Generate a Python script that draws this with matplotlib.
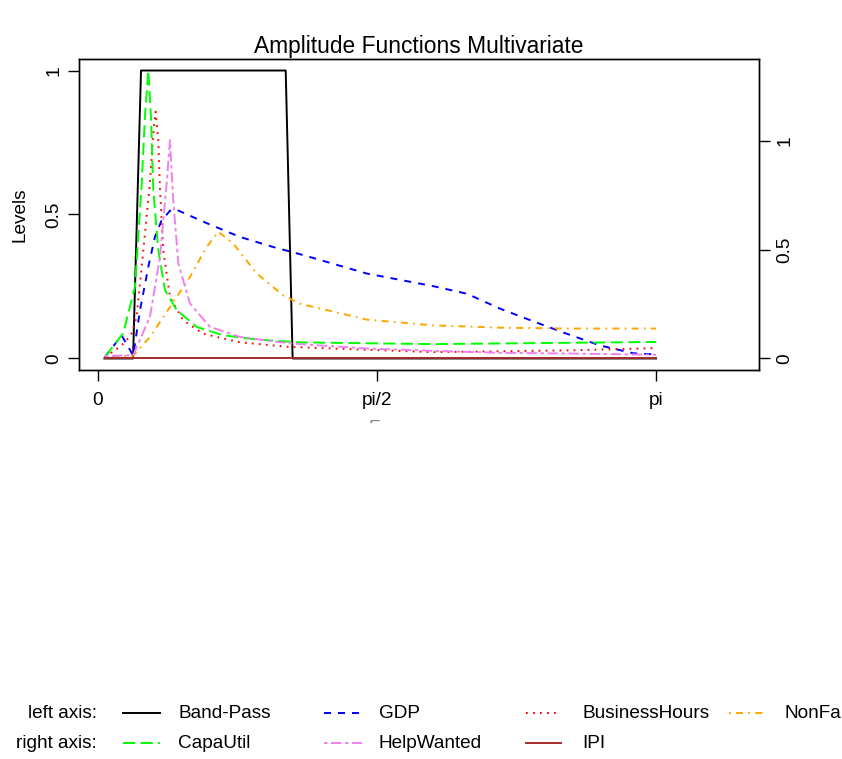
import matplotlib
matplotlib.use("Agg")
import matplotlib.pyplot as plt
from matplotlib.lines import Line2D
from matplotlib.patches import Rectangle

plt.rcParams['font.family'] = ['Liberation Sans', 'DejaVu Sans']

# ---------------- data (frequency in radians, amplitude) ----------------
bp_f = [0.038, 0.199, 0.244, 1.058, 1.097, 3.142]
bp_v = [0.0, 0.0, 1.0, 1.0, 0.0, 0.0]

gdp_f = [0.041, 0.135, 0.200, 0.238, 0.285, 0.322, 0.360, 0.407, 0.435, 0.613,
         0.801, 0.988, 1.157, 1.514, 1.889, 2.077, 2.264, 2.451, 2.639, 2.827,
         3.014, 3.142]
gdp_v = [0.005, 0.080, 0.010, 0.167, 0.318, 0.422, 0.480, 0.513, 0.519, 0.470,
         0.422, 0.387, 0.359, 0.295, 0.251, 0.225, 0.173, 0.129, 0.086, 0.045,
         0.018, 0.014]

bh_f = [0.041, 0.097, 0.154, 0.191, 0.219, 0.257, 0.294, 0.313, 0.326, 0.341,
        0.351, 0.369, 0.407, 0.482, 0.594, 0.801, 1.082, 1.887, 2.641, 3.142]
bh_v = [0.005, 0.028, 0.056, 0.087, 0.144, 0.376, 0.609, 0.783, 0.857, 0.759,
        0.585, 0.376, 0.213, 0.132, 0.086, 0.056, 0.040, 0.022, 0.028, 0.036]

nf_f = [0.041, 0.200, 0.294, 0.407, 0.519, 0.613, 0.679, 0.763, 0.895, 1.044,
        1.139, 1.514, 1.889, 2.264, 2.639, 3.142]
nf_v = [0.003, 0.010, 0.074, 0.179, 0.283, 0.387, 0.440, 0.399, 0.295, 0.219,
        0.190, 0.135, 0.115, 0.107, 0.104, 0.104]

cu_f = [0.041, 0.144, 0.210, 0.248, 0.266, 0.285, 0.300, 0.313, 0.341, 0.379,
        0.445, 0.557, 0.705, 0.895, 1.138, 1.887, 2.641, 3.142]
cu_v = [0.007, 0.116, 0.329, 0.806, 1.110, 1.323, 1.110, 0.773, 0.498, 0.314,
        0.222, 0.145, 0.107, 0.087, 0.074, 0.066, 0.072, 0.076]

hw_f = [0.041, 0.200, 0.294, 0.351, 0.388, 0.407, 0.425, 0.454, 0.519, 0.632,
        0.801, 1.082, 1.514, 1.889, 2.264, 2.639, 3.142]
hw_v = [0.011, 0.015, 0.191, 0.467, 0.804, 1.003, 0.727, 0.437, 0.253, 0.145,
        0.099, 0.069, 0.046, 0.035, 0.026, 0.023, 0.017]

ipi_f = [0.041, 3.142]
ipi_v = [0.0, 0.0]

left_names = ["Band-Pass", "GDP", "BusinessHours", "NonFarmPayroll"]
right_names = ["CapaUtil", "HelpWanted", "IPI"]
xtick_vals = [0.0, 1.5707963, 3.1415927]
xtick_labels = ["0", "pi/2", "pi"]
left_ticks = [0, 0.5, 1]
right_ticks = [0, 0.5, 1]
tick_text = {0: "0", 0.5: "0.5", 1: "1"}

# ---------------- styles ----------------
LW = 1.4
u = 0.9
styles = {
    "solid": "-",
    "dashed": (0, (4 * u, 4 * u)),
    "dotted": (0, (1 * u, 3 * u)),
    "dotdash": (0, (1 * u, 3 * u, 4 * u, 3 * u)),
    "longdash": (0, (7 * u, 3 * u)),
    "twodash": (0, (2 * u, 2 * u, 6 * u, 2 * u)),
}
left_series = [(bp_f, bp_v, "black", "solid"),
               (gdp_f, gdp_v, "blue", "dashed"),
               (bh_f, bh_v, "red", "dotted"),
               (nf_f, nf_v, "orange", "dotdash")]
right_series = [(cu_f, cu_v, "#00FF00", "longdash"),
                (hw_f, hw_v, "violet", "twodash"),
                (ipi_f, ipi_v, "brown", "solid")]

W, H = 842, 759
fig = plt.figure(figsize=(W / 100, H / 100), dpi=100)
L, R, T, B = 79, 759, 59, 370
ax = fig.add_axes([L / W, 1 - B / H, (R - L) / W, (B - T) / H])
ax2 = ax.twinx()

for f, v, c, s in left_series:
    ax.plot(f, v, color=c, linestyle=styles[s], lw=LW)
for f, v, c, s in right_series:
    ax2.plot(f, v, color=c, linestyle=styles[s], lw=LW)

ax.set_xlim(-0.105, 3.721)
ax.set_ylim(-0.04, 1.04)
rmax = max(cu_v)
ax2.set_ylim(-0.04 * rmax, 1.04 * rmax)

FS = 13.7
ax.set_xticks(xtick_vals)
ax.set_xticklabels(xtick_labels, fontsize=FS)
ax.set_yticks(left_ticks)
ax.set_yticklabels([tick_text[t] for t in left_ticks], fontsize=FS, rotation=90, va='center')
ax2.set_yticks(right_ticks)
ax2.set_yticklabels([tick_text[t] for t in right_ticks], fontsize=FS, rotation=90, va='center')
ax.tick_params(axis='x', length=8, width=1.0, pad=8)
ax.tick_params(axis='y', length=8, width=1.0, pad=4)
ax2.tick_params(axis='y', length=8, width=1.0, pad=4.5)
for a in (ax, ax2):
    for sp in a.spines.values():
        sp.set_linewidth(1.0)

fig.text(419 / W, 1 - 47 / H, "Amplitude Functions Multivariate", ha='center', va='center', fontsize=16.4)
fig.text(20 / W, 1 - 214.5 / H, "Levels", ha='center', va='center', rotation=90, fontsize=FS)

# x label, mostly hidden as in the reference
fig.text(413 / W, 1 - 420 / H, "Frequency", ha='center', va='top', fontsize=FS, color='#888888')
fig.add_artist(Rectangle((0, 1 - 470 / H), 1, (470 - 423) / H, transform=fig.transFigure,
                         facecolor='white', edgecolor='none', zorder=10))

# ---------------- legend ----------------
row_y = [713, 743]
col_line = [(123, 160), (324, 362), (526, 561), (729, 765)]
col_text = [178, 379, 582, 784]
fig.text(97 / W, 1 - row_y[0] / H, "left axis:", ha='right', va='center', fontsize=FS)
fig.text(97 / W, 1 - row_y[1] / H, "right axis:", ha='right', va='center', fontsize=FS)
for row, (names, series) in enumerate([(left_names, left_series), (right_names, right_series)]):
    y = 1 - row_y[row] / H
    for i, (name, (_, _, c, s)) in enumerate(zip(names, series)):
        x0, x1 = col_line[i]
        fig.add_artist(Line2D([x0 / W, x1 / W], [y, y], transform=fig.transFigure,
                              color=c, linestyle=styles[s], lw=LW))
        fig.text(col_text[i] / W, y, name, ha='left', va='center', fontsize=FS)

fig.savefig("out.png", dpi=100)
